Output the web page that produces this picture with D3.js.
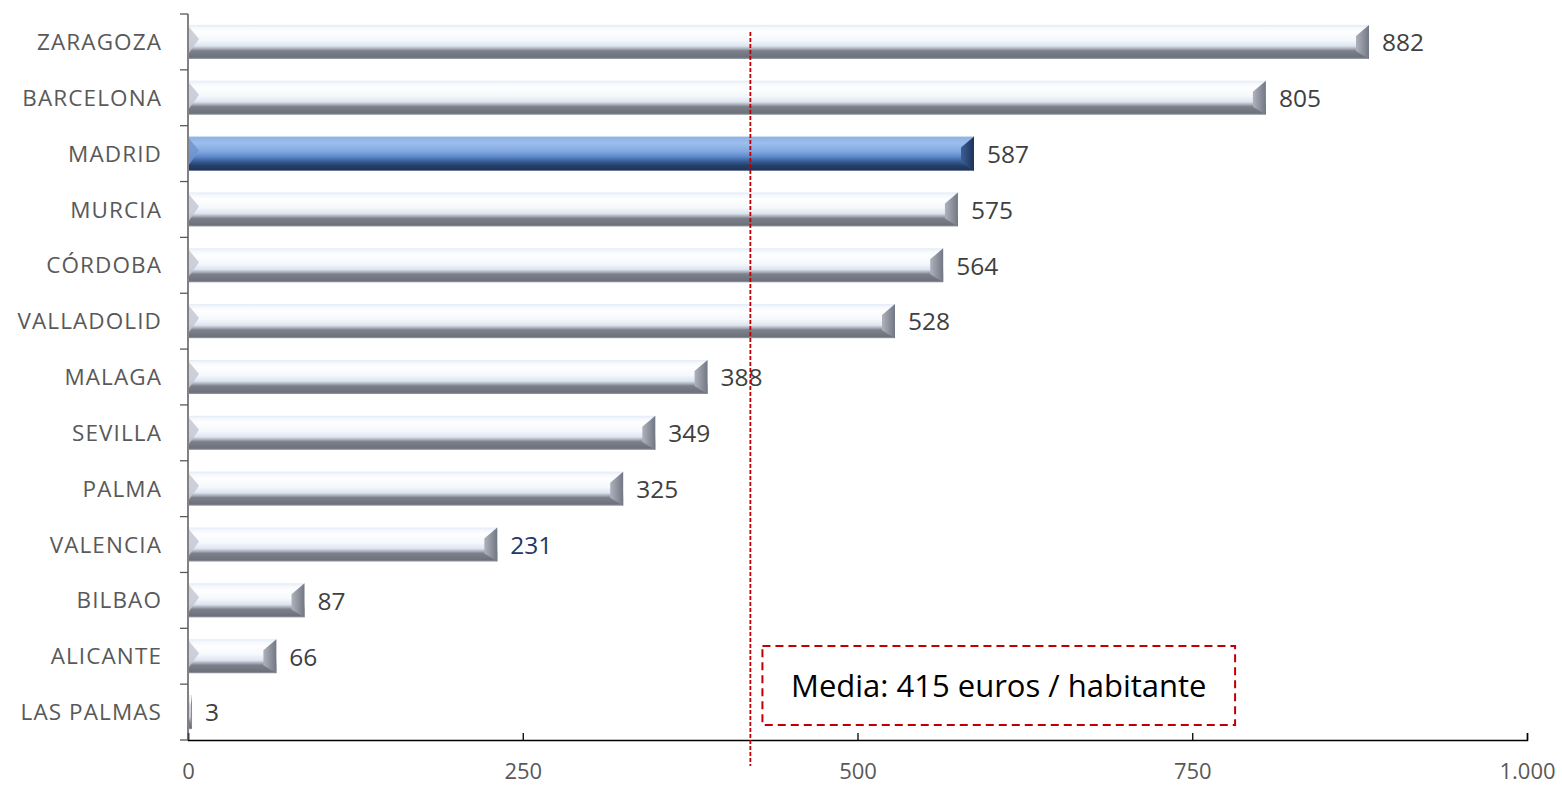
<!DOCTYPE html>
<html>
<head>
<meta charset="utf-8">
<script src="https://cdn.jsdelivr.net/npm/d3@7"></script>
<style>
  body { margin: 0; background: #fff; }
  text { font-family: "Open Sans", "Noto Sans", sans-serif; }
</style>
</head>
<body>
<div id="chart"></div>
<script>
var cities = ["ZARAGOZA", "BARCELONA", "MADRID", "MURCIA", "CÓRDOBA", "VALLADOLID",
	"MALAGA", "SEVILLA", "PALMA", "VALENCIA", "BILBAO", "ALICANTE", "LAS PALMAS"];
var values = [882, 805, 587, 575, 564, 528, 388, 349, 325, 231, 87, 66, 3];
var xTicks = [0, 250, 500, 750, 1000];
var meanValue = 420; // where the dotted line sits in the picture
var meanLabel = "Media: 415 euros / habitante";
var highlight = "MADRID";

var margin = { top: 14, right: 35, bottom: 47, left: 188 },
	width = 1562 - margin.left - margin.right,
	height = 787 - margin.top - margin.bottom;

var svg = d3.select("#chart").append("svg")
	.attr("width", 1562)
	.attr("height", 787);

var defs = svg.append("defs");

// gray bevel gradient
var g1 = defs.append("linearGradient").attr("id", "grayBar")
	.attr("x1", 0).attr("y1", 0).attr("x2", 0).attr("y2", 1);
[[0, "#e3ebf6"], [0.08, "#f4f8fd"], [0.2, "#fefeff"], [0.45, "#f5f8fc"], [0.62, "#dde5f0"],
 [0.7, "#a9aeb9"], [0.76, "#7b808b"], [0.95, "#6c717c"], [1, "#9a9ea6"]]
	.forEach(function (s) { g1.append("stop").attr("offset", s[0]).attr("stop-color", s[1]); });

// blue bevel gradient
var g2 = defs.append("linearGradient").attr("id", "blueBar")
	.attr("x1", 0).attr("y1", 0).attr("x2", 0).attr("y2", 1);
[[0, "#8db2e6"], [0.2, "#9cbeec"], [0.45, "#7fa6de"], [0.6, "#5b86c8"],
 [0.72, "#3c5f98"], [0.85, "#253f6b"], [1, "#1d3359"]]
	.forEach(function (s) { g2.append("stop").attr("offset", s[0]).attr("stop-color", s[1]); });

var g3 = defs.append("linearGradient").attr("id", "grayEnd")
	.attr("x1", 0).attr("y1", 0).attr("x2", 1).attr("y2", 0);
g3.append("stop").attr("offset", 0).attr("stop-color", "#aeb2bc");
g3.append("stop").attr("offset", 1).attr("stop-color", "#727784");

var g4 = defs.append("linearGradient").attr("id", "blueEnd")
	.attr("x1", 0).attr("y1", 0).attr("x2", 1).attr("y2", 0);
g4.append("stop").attr("offset", 0).attr("stop-color", "#3d5f96");
g4.append("stop").attr("offset", 1).attr("stop-color", "#1d3359");

var chart = svg.append("g")
	.attr("transform", "translate(" + margin.left + "," + margin.top + ")");

var x = d3.scaleLinear()
	.domain([0, 1000])
	.range([0, width]);

var y = d3.scaleBand()
	.domain(cities)
	.range([0, height])
	.paddingInner(0.39)
	.paddingOuter(0.195);

var yBand = d3.scaleBand().domain(cities).range([0, height]);

// bars
var bars = chart.append("g").selectAll("g")
	.data(cities)
	.join("g")
	.attr("transform", d => "translate(0," + y(d) + ")");

bars.append("rect")
	.attr("x", 1)
	.attr("y", 0)
	.attr("width", (d, i) => Math.max(x(values[i]) - 1, 2))
	.attr("height", y.bandwidth())
	.attr("fill", d => d == highlight ? "url(#blueBar)" : "url(#grayBar)");

// right bevel
var bev = 13;
bars.append("path")
	.attr("d", function (d, i) {
		var w = x(values[i]), h = y.bandwidth();
		var b = Math.min(bev, Math.max(w - 1, 0) / 2);
		return "M" + w + ",0 L" + w + "," + h + " L" + (w - b) + "," + (h - 8) +
			" L" + (w - b) + "," + 11 + " Z";
	})
	.attr("fill", d => d == highlight ? "url(#blueEnd)" : "url(#grayEnd)");

// left bevel
bars.append("path")
	.attr("d", function (d, i) {
		var w = x(values[i]), h = y.bandwidth();
		var b = Math.min(10, Math.max(w - 1, 0) / 2);
		return "M1,2 L" + (1 + b) + ",14 L1," + (h - 6) + " Z";
	})
	.attr("fill", d => d == highlight ? "#6f95cf" : "#c3c8d2")
	.attr("opacity", 0.85);

// value labels
chart.append("g").selectAll("text")
	.data(cities)
	.join("text")
	.attr("x", (d, i) => x(values[i]) + 13)
	.attr("y", d => y(d) + y.bandwidth() / 2)
	.attr("dy", "0.38em")
	.attr("font-size", "24.5px")
	.attr("fill", d => d == "VALENCIA" ? "#1f3864" : "#404040")
	.text((d, i) => values[i]);

// x axis
var xAxis = chart.append("g")
	.attr("transform", "translate(0," + height + ")")
	.call(d3.axisBottom(x).tickValues(xTicks).tickSize(-7).tickSizeOuter(-7)
		.tickFormat(d => d3.format(",")(d).replace(",", ".")));
xAxis.select(".domain").attr("stroke", "#000").attr("stroke-width", 1.5);
xAxis.selectAll(".tick line").attr("stroke", "#000").attr("stroke-width", 1.3);
xAxis.selectAll("text")
	.attr("y", 31)
	.attr("dy", "0.36em")
	.attr("font-size", "22px")
	.attr("fill", "#595959")
	.attr("font-family", "'Open Sans', sans-serif");

// y axis
var yAxis = chart.append("g");
yAxis.append("line")
	.attr("x1", 0).attr("x2", 0)
	.attr("y1", 0).attr("y2", height)
	.attr("stroke", "#595959").attr("stroke-width", 1.5);
yAxis.selectAll(".tk")
	.data(cities.concat(["_end"]))
	.join("line")
	.attr("class", "tk")
	.attr("x1", -8).attr("x2", 0)
	.attr("y1", (d, i) => i < cities.length ? yBand(d) : height)
	.attr("y2", (d, i) => i < cities.length ? yBand(d) : height)
	.attr("stroke", "#595959").attr("stroke-width", 1.3);
yAxis.selectAll("text")
	.data(cities)
	.join("text")
	.attr("x", -26)
	.attr("y", d => y(d) + y.bandwidth() / 2)
	.attr("dy", "0.36em")
	.attr("text-anchor", "end")
	.attr("font-size", "22.5px")
	.attr("letter-spacing", "1.1px")
	.attr("fill", "#595959")
	.text(d => d);

// mean line
chart.append("line")
	.attr("x1", x(meanValue)).attr("x2", x(meanValue))
	.attr("y1", 18).attr("y2", height + 26)
	.attr("stroke", "#c00000")
	.attr("stroke-width", 1.8)
	.attr("stroke-dasharray", "4,2");

// mean box
var bx = x(429), bw = x(782) - x(429);
chart.append("rect")
	.attr("x", bx).attr("y", 632)
	.attr("width", bw).attr("height", 79)
	.attr("fill", "#fff")
	.attr("stroke", "#c00000")
	.attr("stroke-width", 2)
	.attr("stroke-dasharray", "8,5");
chart.append("text")
	.attr("x", bx + bw / 2)
	.attr("y", 672)
	.attr("dy", "0.36em")
	.attr("text-anchor", "middle")
	.attr("font-size", "31px")
	.attr("fill", "#000")
	.text(meanLabel);
</script>
</body>
</html>
